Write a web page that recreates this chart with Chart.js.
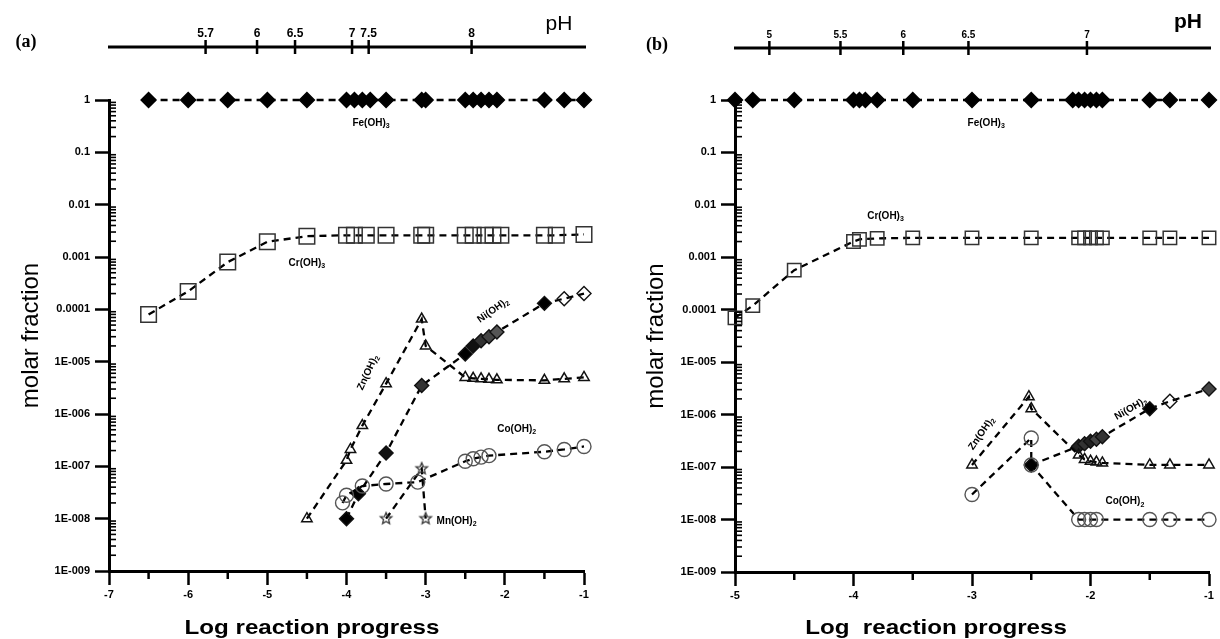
<!DOCTYPE html>
<html>
<head>
<meta charset="utf-8">
<script src="https://cdn.jsdelivr.net/npm/chart.js@4.4.0/dist/chart.umd.min.js"></script>
<style>
  body { margin: 0; background: #fff; }
  .panel { position: absolute; top: 0; width: 610px; height: 639px; }
</style>
</head>
<body>
<div class="panel" style="left:0"><canvas id="chart-a" width="610" height="639"></canvas></div>
<div class="panel" style="left:610px"><canvas id="chart-b" width="610" height="639"></canvas></div>
<script>
// y axis decades and their labels
const yTickValues = [1e-9, 1e-8, 1e-7, 1e-6, 1e-5, 1e-4, 1e-3, 1e-2, 1e-1, 1];
const yTickLabels = ['1E-009', '1E-008', '1E-007', '1E-006', '1E-005', '0.0001', '0.001', '0.01', '0.1', '1'];

// ---- panel (a) ----
const phLabelsA = ['5.7', '6', '6.5', '7', '7.5', '8'];
const phAtA = [-5.78, -5.13, -4.65, -3.93, -3.72, -2.42];

const feXA = [-6.5, -6, -5.5, -5, -4.5, -4, -3.9, -3.8, -3.7, -3.5, -3.05, -3, -2.5, -2.4, -2.3, -2.2, -2.1, -1.5, -1.25, -1];
const feYA = [1, 1, 1, 1, 1, 1, 1, 1, 1, 1, 1, 1, 1, 1, 1, 1, 1, 1, 1, 1];
const crXA = [-6.5, -6, -5.5, -5, -4.5, -4, -3.9, -3.75, -3.5, -3.05, -3, -2.5, -2.4, -2.25, -2.15, -2.05, -1.5, -1.35, -1];
const crYA = [8e-5, 2.2e-4, 8e-4, 1.95e-3, 2.5e-3, 2.6e-3, 2.6e-3, 2.6e-3, 2.6e-3, 2.6e-3, 2.6e-3, 2.6e-3, 2.6e-3, 2.6e-3, 2.6e-3, 2.6e-3, 2.6e-3, 2.6e-3, 2.7e-3];
const znXA = [-4.5, -4.0, -3.95, -3.8, -3.5, -3.05, -3.0, -2.5, -2.4, -2.3, -2.2, -2.1, -1.5, -1.25, -1];
const znYA = [1e-8, 1.3e-7, 2.1e-7, 6e-7, 3.8e-6, 6.5e-5, 2e-5, 5e-6, 4.8e-6, 4.7e-6, 4.6e-6, 4.5e-6, 4.4e-6, 4.7e-6, 5e-6];
const niXA = [-4.0, -3.85, -3.5, -3.05, -2.5, -2.4, -2.3, -2.2, -2.1, -1.5, -1.25, -1];
const niYA = [1e-8, 3e-8, 1.8e-7, 3.5e-6, 1.4e-5, 2e-5, 2.5e-5, 3e-5, 3.7e-5, 1.3e-4, 1.6e-4, 2e-4];
const coXA = [-4.05, -4.0, -3.8, -3.5, -3.1, -2.5, -2.4, -2.3, -2.2, -1.5, -1.25, -1];
const coYA = [2e-8, 2.8e-8, 4.2e-8, 4.6e-8, 5e-8, 1.25e-7, 1.4e-7, 1.5e-7, 1.6e-7, 1.9e-7, 2.1e-7, 2.4e-7];
const mnXA = [-3.5, -3.05, -3.0];
const mnYA = [1e-8, 9e-8, 1e-8];

// ---- panel (b) ----
const phLabelsB = ['5', '5.5', '6', '6.5', '7'];
const phAtB = [-4.71, -4.11, -3.58, -3.03, -2.03];

const feXB = [-5, -4.85, -4.5, -4.0, -3.95, -3.9, -3.8, -3.5, -3.0, -2.5, -2.15, -2.1, -2.05, -2.0, -1.95, -1.9, -1.5, -1.33, -1];
const feYB = [1, 1, 1, 1, 1, 1, 1, 1, 1, 1, 1, 1, 1, 1, 1, 1, 1, 1, 1];
const crXB = [-5, -4.85, -4.5, -4.0, -3.95, -3.8, -3.5, -3.0, -2.5, -2.1, -2.05, -2.0, -1.95, -1.9, -1.5, -1.33, -1];
const crYB = [7e-5, 1.2e-4, 5.7e-4, 2e-3, 2.2e-3, 2.3e-3, 2.35e-3, 2.35e-3, 2.35e-3, 2.35e-3, 2.35e-3, 2.35e-3, 2.35e-3, 2.35e-3, 2.35e-3, 2.35e-3, 2.35e-3];
const znXB = [-3.0, -2.52, -2.5, -2.1, -2.05, -2.0, -1.95, -1.9, -1.5, -1.33, -1];
const znYB = [1.1e-7, 2.2e-6, 1.3e-6, 1.7e-7, 1.4e-7, 1.3e-7, 1.25e-7, 1.2e-7, 1.1e-7, 1.1e-7, 1.1e-7];
const niXB = [-2.5, -2.1, -2.05, -2.0, -1.95, -1.9, -1.5, -1.33, -1];
const niYB = [1.1e-7, 2.5e-7, 2.8e-7, 3.1e-7, 3.4e-7, 3.8e-7, 1.3e-6, 1.8e-6, 3.1e-6];
const coXB = [-3.0, -2.5, -2.5, -2.1, -2.05, -2.0, -1.95, -1.5, -1.33, -1];
const coYB = [3e-8, 3.6e-7, 1.1e-7, 1e-8, 1e-8, 1e-8, 1e-8, 1e-8, 1e-8, 1e-8];

const FONT = 'Arial, "Liberation Sans", sans-serif';

function starImage(r) {
    const c = document.createElement('canvas');
    const s = Math.ceil(r * 2 + 4);
    c.width = s; c.height = s;
    const g = c.getContext('2d');
    g.beginPath();
    for (let i = 0; i < 10; i++) {
        const rr = i % 2 ? r * 0.45 : r;
        const a = -Math.PI / 2 + i * Math.PI / 5;
        g.lineTo(s / 2 + rr * Math.cos(a), s / 2 + rr * Math.sin(a));
    }
    g.closePath();
    g.strokeStyle = '#333';
    g.lineWidth = 1.3;
    g.stroke();
    return c;
}

function series(xs, ys, style) {
    return Object.assign({
        data: xs.map((x, i) => ({x: x, y: ys[i]})),
        showLine: true,
        borderColor: '#000',
        borderWidth: 2.3,
        borderDash: [7, 5],
        backgroundColor: 'rgba(0,0,0,0)',
        pointBackgroundColor: 'rgba(0,0,0,0)',
        pointBorderColor: '#222',
        pointBorderWidth: 1.4,
        clip: false
    }, style);
}

// draws the pieces Chart.js has no option for: minor ticks, the pH axis, text labels
const decor = {
    id: 'decor',
    afterDraw(chart, args, o) {
        const {ctx, chartArea: area, scales: {x, y}} = chart;
        ctx.save();
        ctx.strokeStyle = '#000';
        ctx.fillStyle = '#000';

        // minor y ticks, inside
        ctx.lineWidth = 1.6;
        for (let e = -9; e < 0; e++) {
            for (let k = 2; k <= 9; k++) {
                const py = y.getPixelForValue(k * Math.pow(10, e));
                ctx.beginPath();
                ctx.moveTo(area.left, py);
                ctx.lineTo(area.left + 7, py);
                ctx.stroke();
            }
        }
        // half ticks on x, outside
        ctx.lineWidth = 2.5;
        for (let v = x.min + 0.5; v < x.max; v += 1) {
            const px = x.getPixelForValue(v);
            ctx.beginPath();
            ctx.moveTo(px, area.bottom);
            ctx.lineTo(px, area.bottom + 8);
            ctx.stroke();
        }

        // pH axis on top
        ctx.lineWidth = 3;
        ctx.beginPath();
        ctx.moveTo(area.left - 1, o.phY);
        ctx.lineTo(area.right + 2, o.phY);
        ctx.stroke();
        ctx.lineWidth = 2.5;
        ctx.font = 'bold ' + o.phFont + 'px ' + FONT;
        ctx.textAlign = 'center';
        ctx.textBaseline = 'alphabetic';
        o.phAt.forEach((v, i) => {
            const px = x.getPixelForValue(v);
            ctx.beginPath();
            ctx.moveTo(px, o.phY - 7);
            ctx.lineTo(px, o.phY + 7);
            ctx.stroke();
            ctx.fillText(o.phLabels[i], px, o.phY - 10);
        });
        ctx.font = o.phTitle.weight + ' 21px ' + FONT;
        ctx.textBaseline = 'middle';
        ctx.fillText('pH', o.phTitle.x, o.phTitle.y);

        // panel letter
        ctx.font = 'bold 18px "Liberation Serif", "Times New Roman", serif';
        ctx.fillText(o.letter.text, o.letter.x, o.letter.y);

        // x axis title, a little wide like the scanned figure
        ctx.save();
        ctx.translate(o.xTitle.x, o.xTitle.y);
        ctx.scale(1.15, 1);
        ctx.font = 'bold 21px ' + FONT;
        ctx.fillText(o.xTitle.text, 0, 0);
        ctx.restore();

        // species labels
        o.species.forEach(s => {
            const px = x.getPixelForValue(s.x);
            const py = y.getPixelForValue(s.y);
            ctx.save();
            ctx.translate(px, py);
            ctx.rotate((s.rot || 0) * Math.PI / 180);
            ctx.font = 'bold 10px ' + FONT;
            const w1 = ctx.measureText(s.base).width;
            ctx.font = 'bold 7px ' + FONT;
            const w2 = ctx.measureText(s.sub).width;
            const x0 = -(w1 + w2) / 2;
            ctx.textAlign = 'left';
            ctx.font = 'bold 10px ' + FONT;
            ctx.fillText(s.base, x0, 0);
            ctx.font = 'bold 7px ' + FONT;
            ctx.fillText(s.sub, x0 + w1, 3);
            ctx.restore();
        });
        ctx.restore();
    }
};

function makeChart(id, xMin, pad, yWidth, datasets, decorOpts) {
    return new Chart(document.getElementById(id).getContext('2d'), {
        type: 'scatter',
        data: {datasets: datasets},
        plugins: [decor],
        options: {
            responsive: false,
            animation: false,
            events: [],
            layout: {padding: pad},
            plugins: {
                legend: {display: false},
                tooltip: {enabled: false},
                decor: decorOpts
            },
            scales: {
                x: {
                    type: 'linear',
                    min: xMin,
                    max: -1,
                    afterBuildTicks: s => {
                        const t = [];
                        for (let v = xMin; v <= -1; v++) t.push({value: v});
                        s.ticks = t;
                    },
                    ticks: {
                        color: '#000',
                        font: {family: FONT, size: 11, weight: 'bold'},
                        padding: 3,
                        autoSkip: false,
                        maxRotation: 0,
                        callback: v => String(v)
                    },
                    grid: {drawOnChartArea: false, tickLength: 14, tickWidth: 2.5, tickColor: '#000'},
                    border: {color: '#000', width: 3},
                    afterFit: s => { s.height = 41; }
                },
                y: {
                    type: 'logarithmic',
                    min: 1e-9,
                    max: 1,
                    afterBuildTicks: s => { s.ticks = yTickValues.map(v => ({value: v})); },
                    ticks: {
                        color: '#000',
                        font: {family: FONT, size: 11, weight: 'bold'},
                        padding: 5,
                        autoSkip: false,
                        callback: (v, i) => yTickLabels[i]
                    },
                    grid: {drawOnChartArea: false, tickLength: 14, tickWidth: 2.5, tickColor: '#000'},
                    border: {color: '#000', width: 3},
                    title: {
                        display: true,
                        text: 'molar fraction',
                        color: '#000',
                        font: {family: FONT, size: 24},
                        padding: {top: 2, bottom: 0}
                    },
                    afterFit: s => { s.width = yWidth; }
                }
            }
        }
    });
}

const star = starImage(6);

makeChart('chart-a', -7, {left: 15, top: 100, right: 26, bottom: 27}, 94, [
    series(feXA, feYA, {pointStyle: 'rectRot', pointRadius: 7.5, pointBackgroundColor: '#000', pointBorderColor: '#000'}),
    series(crXA, crYA, {pointStyle: 'rect', pointRadius: 11, pointBorderColor: '#333', pointBorderWidth: 1.5}),
    series(znXA, znYA, {pointStyle: 'triangle', pointRadius: 6, pointBorderColor: '#111', pointBorderWidth: 1.5}),
    series(coXA, coYA, {pointStyle: 'circle', pointRadius: 7, pointBorderColor: '#555', pointBorderWidth: 1.4}),
    series(niXA, niYA, {pointStyle: 'rectRot', pointRadius: 7, pointBorderColor: '#111',
        pointBackgroundColor: ['#000', '#000', '#111', '#333', '#000', '#111', '#333', '#444', '#555', '#000', 'rgba(0,0,0,0)', 'rgba(0,0,0,0)']}),
    series(mnXA, mnYA, {pointStyle: star, pointRadius: 6})
], {
    phY: 47, phFont: 12, phAt: phAtA, phLabels: phLabelsA,
    phTitle: {x: 559, y: 24, weight: 'normal'},
    letter: {text: '(a)', x: 26, y: 42},
    xTitle: {text: 'Log reaction progress', x: 312, y: 628},
    species: [
        {base: 'Fe(OH)', sub: '3', x: -3.69, y: 0.36},
        {base: 'Cr(OH)', sub: '3', x: -4.5, y: 7.6e-4},
        {base: 'Ni(OH)', sub: '2', x: -2.15, y: 9.5e-5, rot: -35},
        {base: 'Zn(OH)', sub: '2', x: -3.73, y: 6.2e-6, rot: -65},
        {base: 'Co(OH)', sub: '2', x: -1.85, y: 5.2e-7},
        {base: 'Mn(OH)', sub: '2', x: -2.61, y: 9e-9}
    ]
});

makeChart('chart-b', -5, {left: 30, top: 100, right: 9, bottom: 26}, 95, [
    series(feXB, feYB, {pointStyle: 'rectRot', pointRadius: 7.5, pointBackgroundColor: '#000', pointBorderColor: '#000'}),
    series(crXB, crYB, {pointStyle: 'rect', pointRadius: 9.5, pointBorderColor: '#333', pointBorderWidth: 1.5}),
    series(znXB, znYB, {pointStyle: 'triangle', pointRadius: 6, pointBorderColor: '#111', pointBorderWidth: 1.5}),
    series(coXB, coYB, {pointStyle: 'circle', pointRadius: 7, pointBorderColor: '#555', pointBorderWidth: 1.4}),
    series(niXB, niYB, {pointStyle: 'rectRot', pointRadius: 7, pointBorderColor: '#111',
        pointBackgroundColor: ['#000', '#222', '#333', '#222', '#444', '#333', '#000', 'rgba(0,0,0,0)', '#444']})
], {
    phY: 48, phFont: 10, phAt: phAtB, phLabels: phLabelsB,
    phTitle: {x: 578, y: 22, weight: 'bold'},
    letter: {text: '(b)', x: 47, y: 45},
    xTitle: {text: 'Log  reaction progress', x: 326, y: 628},
    species: [
        {base: 'Fe(OH)', sub: '3', x: -2.88, y: 0.36},
        {base: 'Cr(OH)', sub: '3', x: -3.73, y: 6.1e-3},
        {base: 'Zn(OH)', sub: '2', x: -2.92, y: 4.4e-7, rot: -55},
        {base: 'Ni(OH)', sub: '2', x: -1.66, y: 1.3e-6, rot: -30},
        {base: 'Co(OH)', sub: '2', x: -1.71, y: 2.2e-8}
    ]
});
</script>
</body>
</html>
